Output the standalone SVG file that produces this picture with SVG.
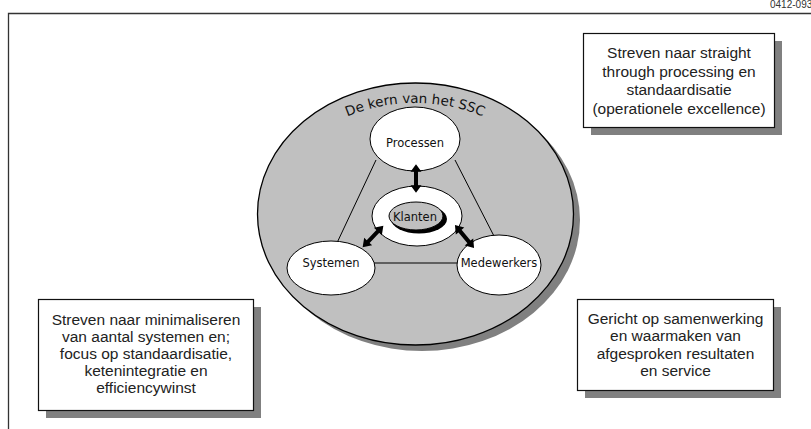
<svg xmlns="http://www.w3.org/2000/svg" width="811" height="429" viewBox="0 0 811 429">
<style>
.box{fill:#fff;stroke:#111;stroke-width:1.2}
.shadow{fill:#808080}
.bt{font-family:"Liberation Sans",Arial,sans-serif;font-size:15.5px;fill:#222;text-anchor:middle}
.node{fill:#fff;stroke:#000;stroke-width:1}
.nt{font-family:"DejaVu Sans",Verdana,sans-serif;font-size:11.5px;fill:#111;text-anchor:middle}
.ln{stroke:#000;stroke-width:1;fill:none}
.arr{fill:#000}
</style>
<defs>
<path id="dbl" d="M-15,0 L-7,-5.5 L-7,-2 L7,-2 L7,-5.5 L15,0 L7,5.5 L7,2 L-7,2 L-7,5.5 Z"/>
<path id="arc" d="M 273 214 A 142 111 0 0 1 557 214"/>
</defs>
<rect width="811" height="429" fill="#fff"/>
<path d="M8.5,429 V13.5 H811" fill="none" stroke="#333" stroke-width="1.3"/>
<text x="770" y="8" font-family="Liberation Sans,Arial,sans-serif" font-size="10" fill="#333">0412-093</text>

<g id="kern">
<ellipse cx="422" cy="220" rx="158" ry="131" fill="#808080"/>
<ellipse cx="415.5" cy="214" rx="158" ry="131" fill="#c0c0c0" stroke="#000" stroke-width="1.3"/>
<text font-family="DejaVu Sans,Verdana,sans-serif" font-size="13.5" fill="#111" text-anchor="middle"><textPath href="#arc" startOffset="50%">De kern van het SSC</textPath></text>
</g>

<g id="connectors">
<line class="ln" x1="376" y1="160" x2="336" y2="245"/>
<line class="ln" x1="455" y1="160" x2="496" y2="240"/>
<line class="ln" x1="372" y1="263" x2="460" y2="263"/>
</g>

<g id="processen">
<ellipse class="node" cx="415" cy="139" rx="45" ry="32"/>
<text class="nt" x="415" y="147">Processen</text>
</g>
<g id="systemen">
<ellipse class="node" cx="331" cy="268" rx="44" ry="27"/>
<text class="nt" x="331" y="267">Systemen</text>
</g>
<g id="medewerkers">
<ellipse class="node" cx="499" cy="265" rx="42" ry="30"/>
<text class="nt" x="499" y="267">Medewerkers</text>
</g>
<g id="klanten">
<ellipse class="node" cx="417" cy="216" rx="45" ry="30"/>
<ellipse cx="419" cy="219" rx="28" ry="14.5" fill="#000"/>
<ellipse cx="416" cy="216" rx="27" ry="14" fill="#c0c0c0" stroke="#000" stroke-width="1"/>
<text class="nt" x="415" y="221">Klanten</text>
</g>

<g id="arrows" class="arr">
<use href="#dbl" transform="translate(416,178.5) rotate(90) scale(0.95,1)"/>
<use href="#dbl" transform="translate(373,236.5) rotate(-46.3)"/>
<use href="#dbl" transform="translate(464.5,236.5) rotate(50.4)"/>
</g>

<g id="box-top">
<rect class="shadow" x="591" y="41" width="191" height="94"/>
<rect class="box" x="583.5" y="33.5" width="191" height="94"/>
<text class="bt" x="679" y="58">Streven naar straight</text>
<text class="bt" x="679" y="76.5">through processing en</text>
<text class="bt" x="679" y="95">standaardisatie</text>
<text class="bt" x="679" y="113.5">(operationele excellence)</text>
</g>
<g id="box-left">
<rect class="shadow" x="46" y="307" width="215" height="111"/>
<rect class="box" x="38.5" y="299.5" width="215" height="111"/>
<text class="bt" x="146" y="324.5">Streven naar minimaliseren</text>
<text class="bt" x="146" y="341.5">van aantal systemen en;</text>
<text class="bt" x="146" y="358.5">focus op standaardisatie,</text>
<text class="bt" x="146" y="375.5">ketenintegratie en</text>
<text class="bt" x="146" y="392.5">efficiencywinst</text>
</g>
<g id="box-right">
<rect class="shadow" x="585" y="307" width="196" height="91"/>
<rect class="box" x="577.5" y="299.5" width="196" height="91"/>
<text class="bt" x="675.5" y="324">Gericht op samenwerking</text>
<text class="bt" x="675.5" y="341">en waarmaken van</text>
<text class="bt" x="675.5" y="358.5">afgesproken resultaten</text>
<text class="bt" x="675.5" y="376">en service</text>
</g>
</svg>
